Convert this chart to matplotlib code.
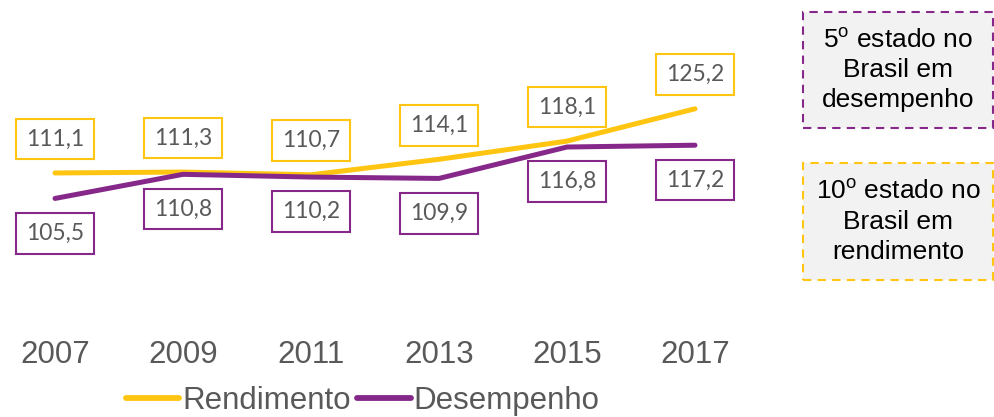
import matplotlib
matplotlib.use("Agg")
import matplotlib.pyplot as plt
from matplotlib.patches import Rectangle

plt.rcParams["font.family"] = ["Liberation Sans", "DejaVu Sans"]
plt.rcParams["mathtext.fontset"] = "custom"
plt.rcParams["mathtext.rm"] = "Liberation Sans"

# dados
anos = ["2007", "2009", "2011", "2013", "2015", "2017"]
rendimento = [111.1, 111.3, 110.7, 114.1, 118.1, 125.2]
desempenho = [105.5, 110.8, 110.2, 109.9, 116.8, 117.2]
nota_desempenho = "5$^\\mathrm{o}$ estado no\nBrasil em\ndesempenho"
nota_rendimento = "10$^\\mathrm{o}$ estado no\nBrasil em\nrendimento"

AMARELO = "#FFC511"
ROXO = "#86288A"
CINZA = "#595959"

W, H = 994, 417
fig = plt.figure(figsize=(W / 100, H / 100), dpi=100)
# eixo ocupa do topo até 330 px
ax = fig.add_axes([0, (H - 330) / H, 760 / W, 330 / H])
ax.set_xlim(-55 / 128, (760 - 55) / 128)
ax.set_ylim(76.6, 149.1)

x = list(range(len(anos)))
ax.plot(x, rendimento, color=AMARELO, lw=3.6, solid_capstyle="round",
        solid_joinstyle="round", label="Rendimento", zorder=3)
ax.plot(x, desempenho, color=ROXO, lw=3.6, solid_capstyle="round",
        solid_joinstyle="round", label="Desempenho", zorder=3)

def rotulo(v, i, cor, dy):
    ax.annotate(f"{v:.1f}".replace(".", ","), (i, v), xytext=(0, dy),
                textcoords="offset points", ha="center", va="center",
                fontsize=16.5, color=CINZA, family=["Lato", "DejaVu Sans"],
                bbox=dict(boxstyle="square,pad=0.43", fc="white", ec=cor, lw=1.5))

for i, (r, d) in enumerate(zip(rendimento, desempenho)):
    rotulo(r, i, AMARELO, 24.5)
    rotulo(d, i, ROXO, -25)

ax.set_xticks(x)
ax.set_xticklabels(anos, fontsize=22.5, color=CINZA)
ax.tick_params(axis="x", length=0, pad=7)
ax.set_yticks([])
for s in ax.spines.values():
    s.set_visible(False)
ax.patch.set_alpha(0)

leg = fig.legend(loc="center", bbox_to_anchor=(363 / W, 16 / H), ncol=2, frameon=False,
                 fontsize=22.5, labelcolor=CINZA, handlelength=1.7, handletextpad=0.1,
                 columnspacing=0.2, borderpad=0, borderaxespad=0)
for h in leg.get_lines():
    h.set_linewidth(4.2)

# caixas à direita
def caixa(y0, y1, cor, texto):
    x0, x1 = 803, 993
    fig.patches.append(Rectangle((x0 / W, 1 - y1 / H), (x1 - x0) / W, (y1 - y0) / H,
                                 transform=fig.transFigure, fc="#F2F2F2", ec=cor,
                                 lw=1.5, ls=(0, (4, 3))))
    fig.text((x0 + x1) / 2 / W, 1 - (y0 + y1) / 2 / H, texto, ha="center",
             va="center", fontsize=19, color="black", linespacing=1.3)

caixa(12, 128, ROXO, nota_desempenho)
caixa(163, 280, AMARELO, nota_rendimento)

fig.savefig("out.png", dpi=100)
